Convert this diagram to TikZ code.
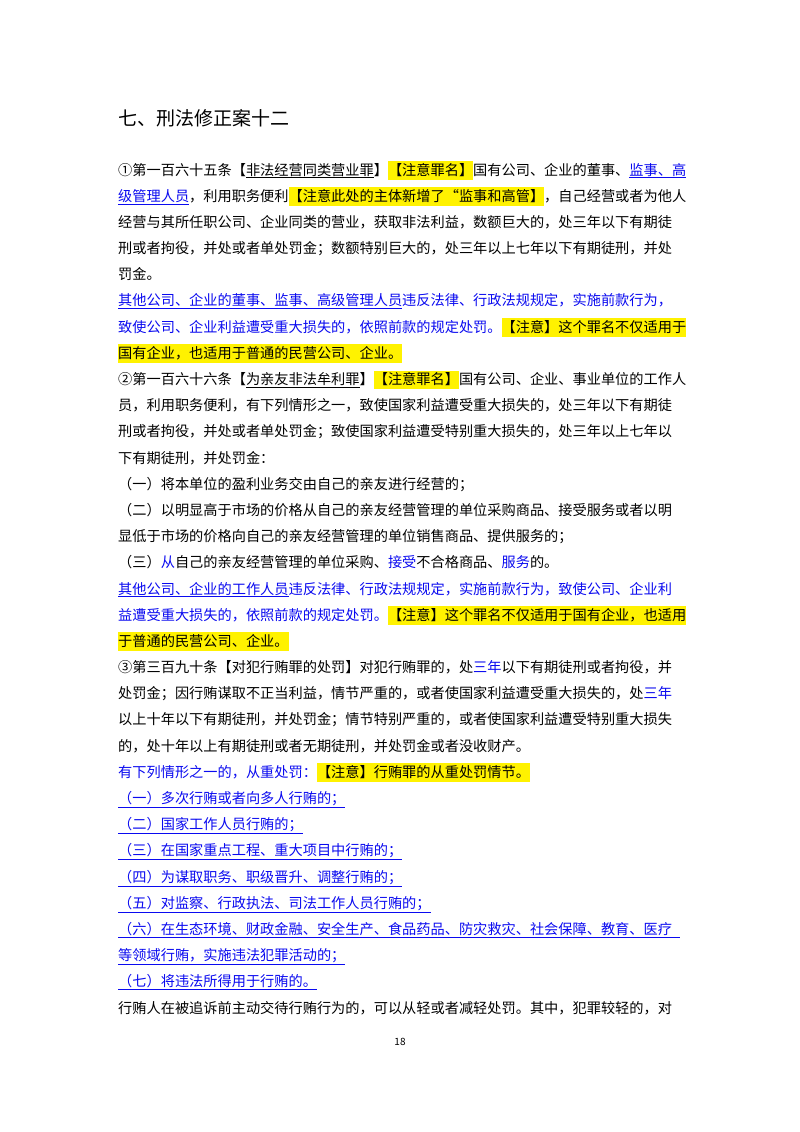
\documentclass[tikz,border=0pt]{standalone}
\usepackage{fontspec}
\usepackage{xcolor}
\setmainfont{Noto Sans CJK SC}
\XeTeXlinebreaklocale "zh"
\XeTeXlinebreakskip=0pt plus 4pt
\definecolor{lawblue}{RGB}{10,10,240}
\newcommand\hlt[1]{{\setlength{\fboxsep}{0pt}\colorbox{yellow}{\rule[-4.5pt]{0pt}{18.5pt}#1}}}
\newcommand\bl[1]{{\color{lawblue}#1}}
\newcommand\ul[1]{\underline{#1}}
\newcommand\fl[1]{\makebox[562pt][s]{#1}}
\tikzset{ln/.style={anchor=base west,inner sep=0pt,font=\fontsize{14.2pt}{26pt}\selectfont}}
\begin{document}
\begin{tikzpicture}[x=1pt,y=-1pt]
\useasboundingbox (0,0) rectangle (800,1132);
\fill[white] (0,0) rectangle (800,1132);
\def\Y#1{175+26.19*#1}
\node[anchor=base west,inner sep=0pt,font=\fontsize{19pt}{22pt}\selectfont] (title) at (118,125) {七、刑法修正案十二};
\node[ln] (l0) at (118,{\Y{0}}) {\fl{①第一百六十五条【\ul{非法经营同类营业罪}】\hlt{【注意罪名】}国有公司、企业的董事、\bl{\ul{监事、高}}}};
\node[ln] (l1) at (118,{\Y{1}}) {\fl{\bl{\ul{级管理人员}}，利用职务便利\hlt{【注意此处的主体新增了“监事和高管】}，自己经营或者为他人}};
\node[ln] (l2) at (118,{\Y{2}}) {\fl{经营与其所任职公司、企业同类的营业，获取非法利益，数额巨大的，处三年以下有期徒}};
\node[ln] (l3) at (118,{\Y{3}}) {\fl{刑或者拘役，并处或者单处罚金；数额特别巨大的，处三年以上七年以下有期徒刑，并处}};
\node[ln] (l4) at (118,{\Y{4}}) {罚金。};
\node[ln] (l5) at (118,{\Y{5}}) {\color{lawblue}\fl{\ul{其他公司、企业的董事、监事、高级管理人员}违反法律、行政法规规定，实施前款行为，}};
\node[ln] (l6) at (118,{\Y{6}}) {\fl{\bl{致使公司、企业利益遭受重大损失的，依照前款的规定处罚。}\hlt{【注意】这个罪名不仅适用于}}};
\node[ln] (l7) at (118,{\Y{7}}) {\hlt{国有企业，也适用于普通的民营公司、企业。}};
\node[ln] (l8) at (118,{\Y{8}}) {\fl{②第一百六十六条【\ul{为亲友非法牟利罪}】\hlt{【注意罪名】}国有公司、企业、事业单位的工作人}};
\node[ln] (l9) at (118,{\Y{9}}) {\fl{员，利用职务便利，有下列情形之一，致使国家利益遭受重大损失的，处三年以下有期徒}};
\node[ln] (l10) at (118,{\Y{10}}) {\fl{刑或者拘役，并处或者单处罚金；致使国家利益遭受特别重大损失的，处三年以上七年以}};
\node[ln] (l11) at (118,{\Y{11}}) {下有期徒刑，并处罚金：};
\node[ln] (l12) at (118,{\Y{12}}) {（一）将本单位的盈利业务交由自己的亲友进行经营的；};
\node[ln] (l13) at (118,{\Y{13}}) {\fl{（二）以明显高于市场的价格从自己的亲友经营管理的单位采购商品、接受服务或者以明}};
\node[ln] (l14) at (118,{\Y{14}}) {显低于市场的价格向自己的亲友经营管理的单位销售商品、提供服务的；};
\node[ln] (l15) at (118,{\Y{15}}) {（三）\bl{从}自己的亲友经营管理的单位采购、\bl{接受}不合格商品、\bl{服务}的。};
\node[ln] (l16) at (118,{\Y{16}}) {\color{lawblue}\fl{\ul{其他公司、企业的工作人员}违反法律、行政法规规定，实施前款行为，致使公司、企业利}};
\node[ln] (l17) at (118,{\Y{17}}) {\fl{\bl{益遭受重大损失的，依照前款的规定处罚。}\hlt{【注意】这个罪名不仅适用于国有企业，也适用}}};
\node[ln] (l18) at (118,{\Y{18}}) {\hlt{于普通的民营公司、企业。}};
\node[ln] (l19) at (118,{\Y{19}}) {\fl{③第三百九十条【对犯行贿罪的处罚】对犯行贿罪的，处\bl{三年}以下有期徒刑或者拘役，并}};
\node[ln] (l20) at (118,{\Y{20}}) {\fl{处罚金；因行贿谋取不正当利益，情节严重的，或者使国家利益遭受重大损失的，处\bl{三年}}};
\node[ln] (l21) at (118,{\Y{21}}) {\fl{以上十年以下有期徒刑，并处罚金；情节特别严重的，或者使国家利益遭受特别重大损失}};
\node[ln] (l22) at (118,{\Y{22}}) {的，处十年以上有期徒刑或者无期徒刑，并处罚金或者没收财产。};
\node[ln] (l23) at (118,{\Y{23}}) {\bl{有下列情形之一的，从重处罚：}\hlt{【注意】行贿罪的从重处罚情节。}};
\node[ln] (l24) at (118,{\Y{24}}) {\color{lawblue}\ul{（一）多次行贿或者向多人行贿的；}};
\node[ln] (l25) at (118,{\Y{25}}) {\color{lawblue}\ul{（二）国家工作人员行贿的；}};
\node[ln] (l26) at (118,{\Y{26}}) {\color{lawblue}\ul{（三）在国家重点工程、重大项目中行贿的；}};
\node[ln] (l27) at (118,{\Y{27}}) {\color{lawblue}\ul{（四）为谋取职务、职级晋升、调整行贿的；}};
\node[ln] (l28) at (118,{\Y{28}}) {\color{lawblue}\ul{（五）对监察、行政执法、司法工作人员行贿的；}};
\node[ln] (l29) at (118,{\Y{29}}) {\color{lawblue}\ul{\fl{（六）在生态环境、财政金融、安全生产、食品药品、防灾救灾、社会保障、教育、医疗}}};
\node[ln] (l30) at (118,{\Y{30}}) {\color{lawblue}\ul{等领域行贿，实施违法犯罪活动的；}};
\node[ln] (l31) at (118,{\Y{31}}) {\color{lawblue}\ul{（七）将违法所得用于行贿的。}};
\node[ln] (l32) at (118,{\Y{32}}) {\fl{行贿人在被追诉前主动交待行贿行为的，可以从轻或者减轻处罚。其中，犯罪较轻的，对}};
\node[anchor=base,inner sep=0pt,font=\fontsize{10pt}{12pt}\selectfont] (page) at (400,1045) {18};
\end{tikzpicture}
\end{document}
